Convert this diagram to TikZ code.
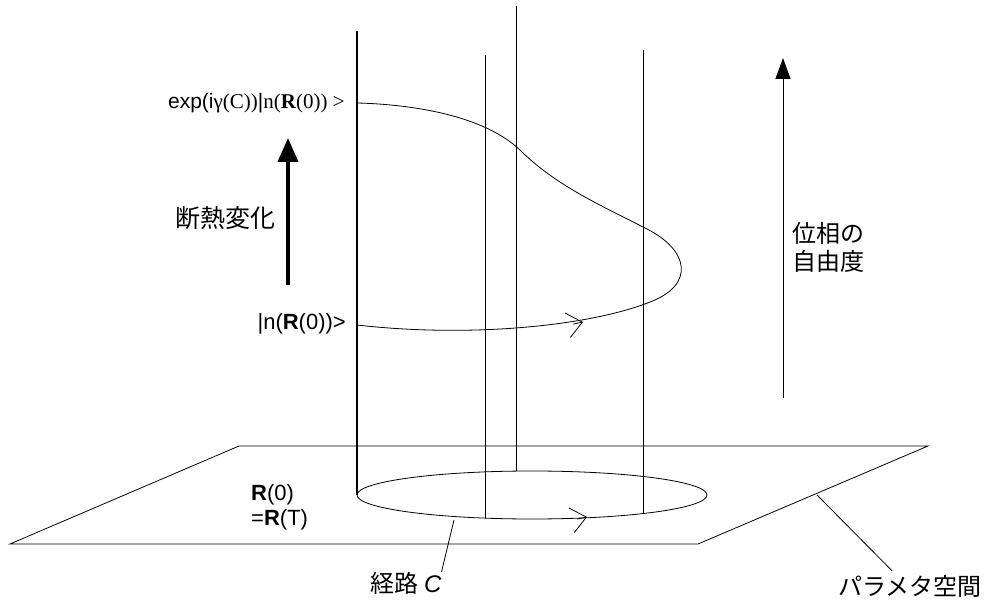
\documentclass[tikz,border=0pt]{standalone}
\usepackage{fontspec}
\setmainfont{Liberation Sans}
\newfontfamily\jpfont{Noto Sans CJK JP}
\newfontfamily\serifmix{Liberation Serif}
\usetikzlibrary{arrows.meta}
\begin{document}
\begin{tikzpicture}[x=1pt,y=-1pt,
  thinline/.style={line width=0.8pt, draw=black},
  poleline/.style={line width=1.4pt, draw=black},
  lbl/.style={inner sep=0pt, font=\fontsize{22}{25}\selectfont},
  jplbl/.style={inner sep=0pt, font=\fontsize{24}{28}\selectfont\jpfont},
  barb/.style={-{Straight Barb[length=15pt,width=25pt,line width=0.8pt]}, line width=0.8pt}]
\useasboundingbox (0,0) rectangle (989,604);
% parameter plane
\coordinate (pTL) at (239,446);
\coordinate (pTR) at (928,446);
\coordinate (pBR) at (698,544);
\coordinate (pBL) at (10,544);
\draw[thinline] (pTL) -- (pTR) -- (pBR) -- (pBL) -- cycle;
% loop C
\draw[thinline] (532,495) ellipse [x radius=175, y radius=24];
\draw[barb] (577.2,519.1) -- (587,517);
% vertical lines
\draw[poleline] (357,31) -- (357,495);
\draw[thinline] (485,55) -- (485,518.1);
\draw[thinline] (516,6) -- (516,471.1);
\draw[thinline] (643,50) -- (643,513.6);
% phase curve
\coordinate (cStart) at (357,325);
\coordinate (cEnd) at (357,103);
\draw[thinline] (cStart) .. controls (470,338) and (590,326) .. (650,302)
  .. controls (695,285) and (690,250) .. (645,228)
  .. controls (600,205) and (555,185) .. (520,150)
  .. controls (480,112) and (400,104) .. (cEnd);
\draw[barb] (573.2,324.1) -- (583,322);
% labels on the left
\node[inner sep=0pt, font=\fontsize{21}{24}\selectfont, anchor=east] (ketTop) at (345,103)
  {exp(i{\serifmix γ(C))}|{\serifmix n(\textbf{R}(0)) >}};
\node[lbl, anchor=east] (ketBot) at (346,324) {|n(\textbf{R}(0))>};
% adiabatic arrow
\coordinate (adB) at (288,285);
\coordinate (adT) at (288,138);
\draw[line width=4pt, -{Triangle[length=24pt,width=20pt]}] (adB) -- (adT);
\node[inner sep=0pt, font=\fontsize{25}{28}\selectfont\jpfont] (adText) at (225,218) {断熱変化};
% phase arrow
\coordinate (phB) at (783,398);
\coordinate (phT) at (783,58);
\draw[line width=1pt, -{Triangle[length=21pt,width=15pt]}] (phB) -- (phT);
\node[jplbl, align=left, anchor=west] (phText) at (792,247) {位相の\\自由度};
% R(0)=R(T)
\node[lbl, align=left, anchor=west] (r0) at (251,507) {\textbf{R}(0)\\=\textbf{R}(T)};
% path label
\node[jplbl, anchor=center] (pathC) at (406,583) {経路 {\fontspec{Liberation Sans}\itshape C}};
\coordinate (pathPt) at (454,520);
\draw[thinline] (pathPt) -- (pathC.north east);
% parameter space label
\node[jplbl, anchor=center] (paramSp) at (910,586) {パラメタ空間};
\coordinate (planePt) at (817,495);
\draw[thinline] (planePt) -- ([xshift=-18pt,yshift=4pt]paramSp.north);
\end{tikzpicture}
\end{document}
